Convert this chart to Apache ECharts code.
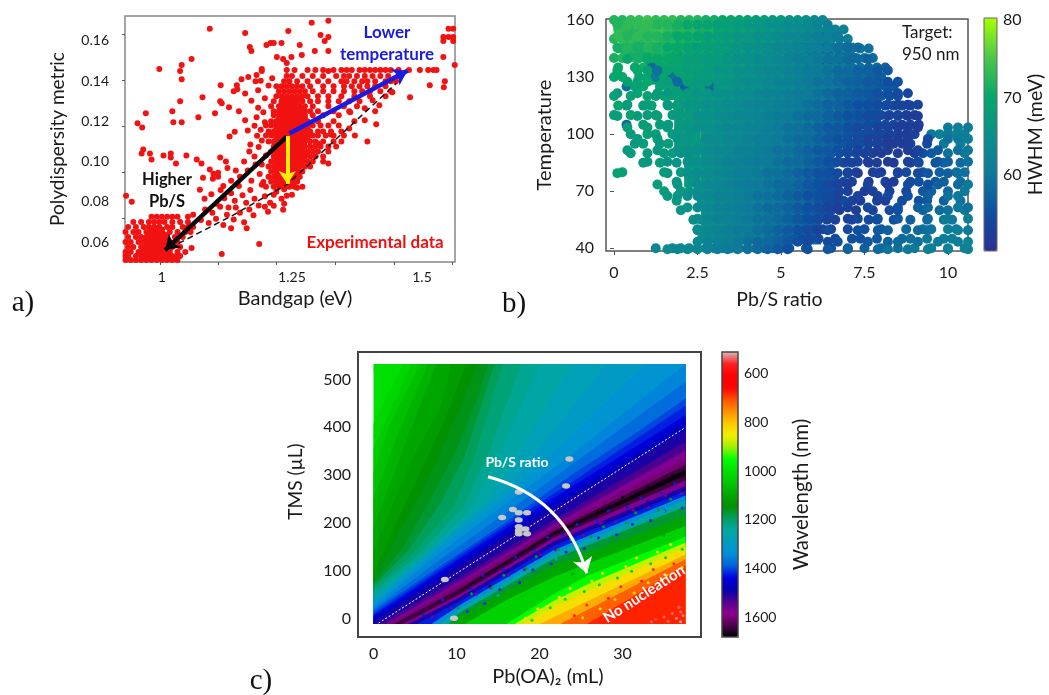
<!DOCTYPE html>
<html>
<head>
<meta charset="utf-8">
<style>html,body{margin:0;padding:0;background:#fff}#c{width:1049px;height:695px}</style>
<script src="https://cdn.jsdelivr.net/npm/echarts@6/dist/echarts.min.js"></script>
</head>
<body>
<div id="c"></div>
<script>
// ---------- Panel a: dense regions as rows of [polydispersity metric, bandgaps]; sparse points as [bandgap, metric]
const denseRows = [
[.051,[.93,.94,.95,.96,.97,.98,.99,1.0,1.01,1.02,1.03]],
[.052,[.965,.975,.985,.995,1.005,1.015]],
[.053,[.93,.935,.95,.96,.975,.985,.995,1.005,1.02,1.03,1.035]],
[.054,[.97,.98,.99,1.0,1.01]],
[.055,[.93,.94,.955,.965,.975,.985,.995,1.005,1.015,1.03,1.045]],
[.0562,[.965,.975,.985,.995,1.005,1.015]],
[.0575,[.935,.945,.96,.97,.98,.99,1.0,1.01,1.02,1.035]],
[.0588,[.97,.98,.99,1.0,1.01]],
[.06,[.93,.94,.955,.965,.975,.985,.995,1.005,1.015,1.03]],
[.0612,[.97,.98,.99,1.0,1.01]],
[.0625,[.935,.95,.96,.97,.98,.99,1.0,1.01,1.025,1.04]],
[.0637,[.975,.985,.995,1.005]],
[.065,[.93,.945,.955,.97,.98,.99,1.0,1.015,1.03,1.045,1.055]],
[.0662,[.98,.99,1.0]],
[.0675,[.935,.95,.965,.975,.985,.995,1.01,1.02,1.04,1.05,1.06]],
[.07,[.945,.96,.975,.985,.995,1.005,1.02,1.035,1.05]],
[.0725,[.98,.99,1.0,1.01,1.02,1.03,1.05]],
[.0875,[1.2,1.215,1.225,1.235,1.245,1.255,1.27]],
[.08875,[1.22,1.23,1.24,1.25]],
[.09,[1.21,1.22,1.23,1.24,1.25,1.26]],
[.09125,[1.22,1.23,1.24,1.25,1.26]],
[.0925,[1.205,1.215,1.225,1.235,1.245,1.255,1.265]],
[.09375,[1.22,1.23,1.24,1.25,1.26]],
[.095,[1.21,1.22,1.23,1.24,1.25,1.26,1.27]],
[.09625,[1.22,1.23,1.24,1.25,1.26]],
[.0975,[1.205,1.215,1.225,1.235,1.245,1.255,1.265,1.275,1.285]],
[.09875,[1.22,1.23,1.24,1.25,1.26,1.27]],
[.1,[1.21,1.22,1.23,1.24,1.25,1.26,1.27,1.28,1.29,1.31]],
[.10125,[1.22,1.23,1.24,1.25,1.26,1.27]],
[.1025,[1.215,1.225,1.235,1.245,1.255,1.265,1.275,1.285,1.295,1.31]],
[.10375,[1.22,1.23,1.24,1.25,1.26,1.27]],
[.105,[1.21,1.22,1.23,1.24,1.25,1.26,1.27,1.28,1.29,1.3,1.32]],
[.10625,[1.22,1.23,1.24,1.25,1.26,1.27]],
[.1075,[1.215,1.225,1.235,1.245,1.255,1.265,1.275,1.285,1.295,1.305,1.32,1.335]],
[.10875,[1.22,1.23,1.24,1.25,1.26,1.27]],
[.11,[1.205,1.215,1.225,1.235,1.245,1.255,1.265,1.275,1.285,1.295,1.31,1.33,1.345]],
[.1115,[1.22,1.23,1.24,1.25,1.26,1.27,1.28]],
[.113,[1.2,1.21,1.22,1.23,1.24,1.25,1.26,1.27,1.28,1.29,1.3,1.315,1.33,1.35]],
[.114,[1.22,1.23,1.24,1.25,1.26,1.27]],
[.115,[1.205,1.215,1.225,1.235,1.245,1.255,1.265,1.275,1.285,1.3,1.31,1.325,1.345]],
[.1165,[1.22,1.23,1.24,1.25,1.26,1.27,1.28]],
[.118,[1.2,1.21,1.22,1.23,1.24,1.25,1.26,1.27,1.28,1.29,1.305,1.32,1.34]],
[.119,[1.22,1.23,1.24,1.25,1.26,1.27]],
[.12,[1.21,1.22,1.23,1.24,1.25,1.26,1.27,1.28,1.3,1.33]],
[.1215,[1.225,1.235,1.245,1.255,1.265,1.275]],
[.123,[1.215,1.225,1.235,1.245,1.255,1.265,1.275,1.29,1.31,1.34]],
[.124,[1.23,1.24,1.25,1.26,1.27]],
[.125,[1.215,1.225,1.235,1.245,1.255,1.265,1.275,1.285,1.3,1.33,1.36]],
[.12625,[1.23,1.24,1.25,1.26,1.27]],
[.1275,[1.21,1.225,1.235,1.245,1.255,1.265,1.275,1.29,1.32,1.35,1.375]],
[.12875,[1.23,1.24,1.25,1.26]],
[.13,[1.215,1.23,1.24,1.25,1.26,1.27,1.285,1.3,1.32,1.34,1.36,1.38]],
[.13125,[1.235,1.245,1.255,1.265]],
[.1325,[1.22,1.23,1.24,1.25,1.26,1.27,1.28,1.3,1.32,1.345,1.37,1.4,1.43]],
[.135,[1.225,1.235,1.245,1.255,1.265,1.275,1.29,1.31,1.33,1.35,1.37,1.385,1.4,1.42,1.44]],
[.1375,[1.22,1.23,1.24,1.25,1.26,1.27,1.285,1.31,1.33,1.35,1.365,1.38,1.395,1.41,1.43]],
[.14,[1.235,1.245,1.26,1.28,1.3,1.32,1.345,1.355,1.37,1.385,1.395,1.41,1.43,1.44,1.45]],
[.1425,[1.24,1.25,1.27,1.29,1.31,1.335,1.35,1.36,1.375,1.39,1.405,1.42,1.435,1.455]],
[.1455,[1.24,1.255,1.28,1.295,1.31,1.33,1.345,1.355,1.365,1.38,1.39,1.4,1.41,1.42,1.43,1.44,1.455,1.475,1.496,1.512,1.522,1.528]]
];
const sparsePoints = [
[.995,.146],[1.038,.148],[1.035,.145],[1.038,.141],[1.057,.151],[1.092,.166],[1.16,.164],[1.169,.157],[1.172,.155],[1.201,.158],[1.209,.159],[1.215,.159],[1.23,.159],[1.243,.165],[1.288,.169],[1.32,.17],[1.305,.163],[1.32,.162],[1.313,.16],[1.32,.155],[1.265,.158],[1.269,.153],[1.249,.152],[1.221,.152],[1.233,.151],[1.24,.149],[1.294,.155],[1.32,.145],
[.953,.119],[.962,.117],[.969,.124],[1.02,.125],[1.035,.13],[1.078,.132],[1.022,.1195],[1.038,.1195],[1.07,.122],[1.102,.124],[1.112,.13],[1.115,.129],[1.129,.127],[1.148,.125],[1.113,.138],[1.144,.138],[1.145,.136],[1.153,.141],[1.166,.142],[1.182,.143],[1.192,.146],[1.192,.145],
[.964,.106],[.961,.104],[.977,.104],[.98,.101],[1.003,.103],[1.017,.104],[1.017,.102],[1.027,.099],[1.047,.103],[1.067,.101],[1.076,.099],[1.112,.102],[1.123,.1],[1.092,.096],[1.099,.094],[1.079,.092],[1.108,.0925],[.942,.08],[.931,.083],[1.073,.086],[1.115,.054],[1.057,.057],[1.187,.059],[1.233,.076],[1.24,.083],[1.198,.0775],[1.204,.075],
[1.395,.11],[1.371,.113],[1.412,.1185],[1.477,.132],[1.32,.099],[1.515,.138],[1.544,.14],[1.542,.137],[1.541,.152],[1.563,.148],[1.541,.162],[1.551,.162],[1.56,.166],[1.56,.162],[1.56,.16],[1.541,.16],[1.551,.166],
[1.06,.0735],[1.075,.071],[1.083,.0762],[1.09,.0695],[1.097,.0745],[1.104,.0715],[1.112,.0775],[1.118,.0685],[1.125,.0735],[1.133,.0668],[1.138,.0712],[1.142,.0772],[1.15,.0745],[1.158,.0698],[1.163,.0668],[1.168,.0762],[1.176,.0733],[1.082,.0815],[1.095,.0838],[1.105,.079],[1.113,.0858],[1.12,.0818],[1.128,.0772],[1.133,.0842],[1.14,.0805],[1.148,.0878],[1.155,.0832],[1.162,.0795],[1.17,.0858],[1.178,.0815],[1.186,.0782],[1.192,.0885],[1.198,.0828],[1.208,.0795],[1.098,.0915],[1.108,.0945],[1.118,.0878],[1.126,.0968],[1.133,.0905],[1.142,.0955],[1.15,.0925],[1.158,.1],[1.165,.0955],[1.172,.0905],[1.18,.0985],[1.188,.0938],[1.195,.0898],[1.2,.103],[1.168,.105],[1.178,.1025],[1.186,.1072],[1.192,.0985],[1.17,.1085],[1.183,.1128],[1.192,.1105],[1.165,.1155],[1.178,.1178],[1.19,.1158],[1.14,.1148],[1.13,.1125],[1.16,.1205],[1.182,.122],[1.195,.1245],[1.198,.1195],[1.185,.1268],[1.172,.1302],[1.198,.1315],[1.16,.1338],[1.185,.1355],[1.205,.1378],[1.19,.1402],[1.212,.1415],[1.138,.135],[1.18,.14],
[1.22,.085],[1.235,.0862],[1.215,.0835],[1.23,.0815],[1.25,.0835],[1.26,.087],[1.235,.079],[1.215,.078],
[1.28,.1035],[1.3,.109],[1.325,.1135],[1.36,.1165],[1.37,.12],[1.39,.1205],[1.362,.1245],[1.39,.1265],[1.41,.125],[1.418,.128],[1.405,.1305],[1.443,.1345]
];
const bandgapLabels = [1, 1.25, 1.5];
const bandgapTicks = [0.996, 1.108, 1.2205, 1.333, 1.446, 1.558];
const metricLabels = [0.06, 0.08, 0.10, 0.12, 0.14, 0.16];
const metricTicks = [0.1631, 0.1403, 0.1174, 0.0946, 0.0720];
const dashedGuide = [[1.015,.057],[1.137,.0734],[1.188,.0809],[1.242,.0889],[1.451,.139]];
const lowerTempArrow = [[1.245,.114],[1.472,.1452]];
const higherPbsArrow = [[1.24,.1124],[1.006,.056]];
const yellowArrow = [[1.241,.1127],[1.241,.0889]];

// ---------- Panel b: HWHM (meV); 0 = no point. Two overlapping sampling tables.
const temperatureRows = [160,155,150,145,140,135,130,125,120,115,110,105,100,95,90,85,80,75,70,65,60,55,50,45,40];
const pbsStep = 0.25;
const hwhmRows = [
[72,72,73,73,74,73,73,73,72,72,72,71,71,70,70,69,69,68,68,67,67,66,66,65,64,63],
[73,73,72,73,73,74,73,72,72,72,71,71,70,70,69,69,68,68,67,67,66,65,65,64,64,63,62,62],
[72,73,73,72,73,73,72,72,71,71,71,70,70,69,69,68,68,67,67,66,65,65,64,64,63,62,62,61,61],
[71,72,72,71,72,72,72,71,71,70,70,70,69,69,68,68,67,67,66,66,65,64,64,63,63,62,61,61,60,60,59],
[71,72,0,71,70,71,71,70,70,70,69,69,69,68,68,67,67,66,66,65,65,64,63,63,62,62,61,60,60,59,59,58],
[70,0,70,71,58,70,70,70,69,69,69,68,68,68,67,67,66,66,65,65,64,64,63,62,62,61,61,60,59,59,58,58,57],
[70,70,0,69,70,60,70,59,69,69,68,68,68,67,67,66,66,65,65,64,64,63,63,62,61,61,60,59,59,58,58,57,57],
[0,59,69,70,0,69,0,69,57,68,68,58,67,67,66,66,65,65,64,64,63,63,62,61,61,60,60,59,58,58,57,57,56,56],
[69,0,69,0,69,68,69,0,68,68,67,67,67,66,66,65,65,64,64,63,63,62,61,61,60,60,59,58,58,57,57,56,56,55,55],
[70,69,0,68,69,0,68,68,0,67,0,67,66,66,65,65,64,64,63,63,62,62,61,60,60,59,59,58,57,57,56,56,55,55,54,54],
[68,0,69,0,68,68,0,67,67,0,67,66,66,65,65,64,64,63,63,62,62,61,60,60,59,59,58,58,57,56,56,55,55,54,54,53,53],
[0,58,0,68,0,68,68,0,67,67,66,0,66,65,65,64,64,63,62,62,61,61,60,60,59,58,58,57,56,56,55,55,54,54,53,53,53],
[0,0,68,0,69,68,0,67,0,66,0,66,65,65,64,64,63,63,62,62,61,60,60,59,59,58,57,57,56,55,55,54,54,53,53,52,53,0,60,61,60,62,61],
[0,0,67,68,0,67,68,0,67,0,66,65,65,64,64,63,63,62,62,61,61,60,59,59,58,58,57,56,55,55,54,53,53,52,52,53,0,54,0,60,0,61,60],
[0,0,68,0,67,0,67,67,66,66,0,65,65,64,63,63,62,62,61,61,60,60,59,58,58,57,56,55,55,54,53,53,52,0,52,0,53,55,56,0,59,0,60],
[0,0,0,67,0,68,0,66,0,66,65,65,64,64,63,63,62,62,61,60,60,59,59,58,57,57,56,55,54,0,53,52,0,52,0,53,54,0,55,57,0,58,0],
[0,69,0,0,0,0,68,0,67,0,65,66,65,64,63,62,62,61,61,60,60,59,58,58,57,56,55,0,53,53,0,52,52,0,53,54,0,56,0,57,0,59,59],
[0,0,0,0,0,0,0,67,0,66,0,65,64,64,63,62,62,61,60,60,59,59,58,57,56,56,55,54,53,0,52,0,53,52,0,54,55,0,56,57,0,59,58],
[0,0,0,0,0,0,68,0,67,66,65,65,64,63,63,62,61,61,60,60,59,58,58,57,56,55,55,54,53,0,52,53,0,53,0,54,0,56,57,0,58,0,60],
[0,0,0,0,0,0,0,67,0,0,65,65,64,63,63,62,62,61,60,60,59,58,58,57,56,55,54,54,53,52,0,53,52,0,54,0,55,56,0,57,0,59,60],
[0,0,0,0,0,0,0,0,66,0,0,65,64,63,63,62,61,61,60,59,59,58,57,56,56,55,54,53,0,52,0,53,0,54,55,0,0,57,0,58,59,0,60],
[0,0,0,0,0,0,0,0,0,65,64,64,63,63,62,61,61,60,59,59,58,57,56,55,55,54,53,0,53,0,54,54,0,55,0,57,0,58,0,60,60],
[0,0,0,0,0,0,0,0,0,0,64,64,63,63,62,61,61,60,59,59,58,57,56,55,54,54,53,0,54,0,55,0,56,0,0,58,0,59,59,0,61,60],
[0,0,0,0,0,0,0,0,0,0,64,63,63,62,62,61,60,60,59,58,57,56,55,54,54,0,54,0,55,55,0,56,0,0,58,59,0,60,0,61,61,0],
[0,0,0,0,0,63,0,63,64,63,63,63,62,62,61,60,60,59,59,58,57,56,0,55,0,0,55,0,56,0,57,0,58,0,59,0,60,0,61,0,62,0,62]
];
const temperatureRowsB = [157.5,151.5,145.5,139.5,133.5,127.5,121.5,115.5,109.5,103.5,97.5,91.5,85.5,79.5,73.5,67.5,61.5,55.5,49.5,43.5,39.5];
const pbsStartB = 0.1;
const pbsStepB = 0.3;
const hwhmRowsB = [
[72,73,73,73,72,72,71,70,69,69,68,68,67,66,66,65,65,64,64,63,62,61],
[73,72,73,72,72,71,70,70,69,68,68,67,66,66,65,65,64,63,63,62,61,61,60],
[71,72,71,72,71,70,70,69,68,68,67,67,66,65,65,64,63,63,62,61,61,60,59,58,58],
[0,70,71,70,70,70,69,68,68,67,67,66,65,65,64,64,63,62,61,61,60,59,59,58,58,57],
[70,0,70,69,59,69,69,68,68,67,66,66,65,65,64,63,63,62,61,60,60,59,58,58,57,57,56,56],
[0,69,69,70,0,68,58,68,67,67,66,66,65,64,64,63,62,62,61,60,59,59,58,57,57,56,56,55,55],
[68,0,69,0,68,67,68,67,66,66,65,65,64,64,63,62,62,61,60,60,59,58,57,57,56,56,55,55,54,54],
[0,67,0,68,0,67,0,66,66,65,65,64,64,63,62,62,61,60,60,59,58,57,57,56,55,55,54,54,53,53,53],
[68,0,68,0,68,0,67,0,65,65,64,64,63,63,62,61,60,60,59,58,58,57,56,55,55,54,54,53,53,52,52],
[0,68,0,68,0,67,0,66,65,65,64,63,63,62,62,61,60,59,59,58,57,56,56,55,54,54,53,53,52,52,52,0,0,60,61,60],
[0,0,67,0,67,0,66,66,0,64,64,63,63,62,61,61,60,59,58,58,57,56,55,55,54,53,53,52,52,52,0,54,0,59,60,61],
[0,67,0,0,67,0,66,65,65,64,63,63,62,62,61,60,59,59,58,57,56,56,55,54,53,53,52,52,0,52,53,0,56,0,59,60],
[0,0,0,67,0,66,0,65,65,64,63,62,62,61,60,60,59,58,58,57,56,55,54,53,53,52,0,52,0,53,54,0,56,57,0,59],
[69,0,0,0,0,67,0,65,64,64,63,62,61,61,60,59,59,58,57,56,55,55,54,53,52,0,53,0,53,0,54,56,0,57,59,0],
[0,0,0,0,68,0,66,0,64,63,63,62,61,60,60,59,58,58,57,56,55,54,53,52,0,53,0,52,0,54,0,55,57,0,58,60],
[0,0,0,0,0,67,66,65,64,63,62,62,61,60,59,59,58,57,56,55,55,54,53,0,53,0,53,54,0,55,0,57,0,59,60,0],
[0,0,0,0,0,0,0,66,64,63,62,61,61,60,59,58,58,57,56,55,54,53,52,53,0,54,0,0,55,0,57,58,0,0,60,59],
[0,0,0,0,0,0,0,0,65,63,62,62,61,60,59,59,58,57,56,55,54,53,0,53,54,0,55,0,56,0,0,58,0,60,0,61],
[0,0,0,0,0,0,0,0,64,63,62,61,60,60,59,58,57,56,55,54,53,54,0,0,55,0,56,57,0,0,58,59,0,0,61,60],
[0,0,0,0,0,0,0,0,63,62,62,61,60,59,58,58,57,56,55,54,0,54,55,0,0,56,0,57,58,0,59,0,60,0,61,62],
[0,0,0,0,0,64,63,63,63,62,61,60,60,59,58,57,56,55,0,55,0,56,0,57,0,0,58,59,0,60,0,61,0,62,0,62]
];
// solid interior of the cloud: [Pb/S from, temperature from, HWHM, Pb/S to, temperature to]
const hwhmStrips = [
[0.2,138,71,1.5,158],[0.9,126,69,1.5,138],[1.5,118,69,2.1,158],[1.8,90,67,2.1,118],[2.1,72,67,2.6,158],
[2.6,46,66,3.2,158],[3.2,42,64,3.8,158],[3.8,42,63,4.4,158],[4.4,42,62,5,158],[5,42,60.5,5.6,158],[5.6,42,59,6.2,158],[6.2,55,57,6.6,155],[6.6,100,57,7.2,148],[7.2,105,56,8,135]
];
const pbsLabels = [0, 2.5, 5, 7.5, 10];
const temperatureLabels = [40, 70, 100, 130, 160];
const hwhmLabels = [50, 60, 70, 80];
const hwhmColors = ['#2a2f90','#0f4fa0','#0e7a9a','#0a8f8c','#07a76b','#4dc84a','#a6ff00'];

// ---------- Panel c: wavelength contours [Pb(OA)2, TMS, ...], ordered from upper-left to lower-right
const fieldX = [0, 37.6];
const fieldY = [-10, 532];
const contourWavelengths = [1000,1020,1040,1060,1080,1100,1120,1140,1155,1170,1190,1210,1230,1250,1275,1300,1325,1350,1375,1400,1420,1440,1470,1500,1530,1570,1600,1640,1670,1640,1570,1500,1420,1340,1250,1170,1100,1030,950,880,830,780,720,680];
const contourLines = [
[0,-10,0,532],
[0,408,3.6,532],
[0,355,1.6,420,4.6,532],
[0,304,2,408,5.6,532],
[0,250,3,390,6.6,532],
[0,193,4,374,7.6,532],
[0,145,4.4,325,8,440,9.4,532],
[0,96,4.8,276,8.4,408,11.2,532],
[0,85,4.2,215,7.6,330,10.4,440,12.5,532],
[0,75,3.6,151,6.8,249,10,353,12.4,457,13.8,532],
[0,70,4.2,145,8,240,11,342,13.6,480,14.6,532],
[0,65,4.8,138,9.6,235,12,332,15.6,532],
[0,57,5.6,138,10.8,235,14,353,17.8,532],
[0,49,6.4,138,12,235,16,374,20,532],
[0,43,7.2,148,14,252,18.4,374,24,532],
[0,37,8,158,16,269,20.9,374,28.1,532],
[0,31,8,148,16,255,22.5,360,32.8,532],
[0,26,8,138,16,242,24.1,346,37.6,532],
[0,21,8,124,16,222,24.1,325,37.6,495],
[0,16,8,110,16,203,24.1,304,32.1,394,37.6,460],
[0,11,16,197,24.1,288,37.6,445],
[0,7,16,190,37.6,425],
[0,1,16,181,37.6,412],
[0,-5,16,172,37.6,395],
[0.8,-10,10.4,88,21.7,207,37.6,370],
[1.5,-10,10.4,80,21.7,197,37.6,352],
[2,-10,10.4,72,21.7,190,37.6,335],
[2.5,-10,10.4,64,21.7,184,37.6,322],
[10.4,60,21.7,180,37.6,312],
[3,-10,10.4,58,21.7,176,37.6,300],
[3.5,-10,10.4,52,21.7,170,37.6,290],
[4.2,-10,10.4,46,21.7,162,37.6,278],
[5.2,-10,10.4,38,21.7,153,37.6,268],
[7,-10,10.4,30,21.7,144,37.6,258],
[8,-10,10.4,22,21.7,136,37.6,248],
[9,-10,10.4,14,21.7,126,37.6,235],
[9.8,-10,10.4,6,21.7,112,37.6,215],
[11,-10,16,40,21.7,88,37.6,195],
[16,-10,21.7,52,25.7,90,37.6,172],
[17,-10,21.7,38,25.7,72,37.6,160],
[18,-10,21.7,25,25.7,58,37.6,150],
[20,-10,37.6,135],
[22.5,-10,37.6,125],
[25.7,-10,37.6,112]
];
// speckle read around the noisy band edges: [wavelength, Pb(OA)2, TMS]
const speckles = [
[1420,6,10],[1420,8.3,41],[1420,11.7,63],[1420,13.2,91],[1420,15.6,105],[1420,17.1,130],[1420,19.4,143],[1420,21,171],[1420,22.8,176],[1420,24.5,198],[1420,26.9,206],[1420,28.3,226],[1420,30.6,233],[1420,32.2,253],[1420,34.7,263],[1420,36.3,283],
[1570,7.1,6],[1570,9.4,22],[1570,12.4,52],[1570,14.1,66],[1570,16.3,92],[1570,18.2,104],[1570,20.1,135],[1570,21.9,145],[1570,23.7,170],[1570,25.3,175],[1570,27.4,200],[1570,29.2,203],[1570,31.3,227],[1570,33.1,232],[1570,35.2,258],[1570,37.1,262],
[1170,10.2,24],[1170,11.8,53],[1170,14.3,66],[1170,15.7,92],[1170,18.4,106],[1170,19.6,131],[1170,22.3,145],[1170,23.8,166],[1170,26.2,172],[1170,27.7,193],[1170,30.4,200],[1170,31.6,222],[1170,34.3,228],[1170,35.8,250],
[1420,11.3,16],[1420,13.4,33],[1420,15.2,62],[1420,17.6,76],[1420,19.2,103],[1420,21.4,116],[1420,23.2,140],[1420,25.4,148],[1420,27.1,170],[1420,29.3,176],[1420,31.2,198],[1420,33.4,206],[1420,35.1,226],[1420,37.2,232],
[830,18.3,2],[830,19.8,22],[830,22.4,46],[830,23.7,64],[830,26.3,80],[830,27.6,96],[830,30.4,110],[830,31.7,128],[830,34.2,140],[830,35.8,156],
[1030,19.1,-2],[1030,21.3,24],[1030,23.1,42],[1030,25.4,58],[1030,27.2,72],[1030,29.4,86],[1030,31.1,100],[1030,33.4,116],[1030,35.2,128],[1030,37.2,146],
[680,24.2,8],[680,25.7,30],[680,28.3,44],[680,29.8,68],[680,32.3,80],[680,33.7,104],[680,36.2,116],
[830,25.2,3],[830,27.3,22],[830,29.1,41],[830,31.4,55],[830,33.1,76],[830,35.3,91],[830,37.2,108],
[1030,16,25],[1100,18,60],[1100,24,95],[1100,30,150],[1100,35,175],[1250,15,50],[1250,22,125],[1300,28,175],[1250,35,225],
[1500,8,18],[1500,14,70],[1500,20,130],[1500,26,190],[1500,33,245],[1670,24,197],[1670,27,225],[1670,30,255],[1670,33,278],[1670,36,300],[1570,35,315],[1570,31,275],[1570,27,235],
[540,35,5],[540,36,12],[530,36.5,2],[540,37,15],[530,37.3,8],[550,34,0],[540,36.8,25],[540,33.5,-5],[520,37,-5],[540,35.5,-4]
];
const samplePoints = [[23.6,334],[23.2,278],[17.5,265],[16.8,229],[17.5,222],[18.5,222],[15.5,212],[17.5,207],[17.5,193],[18.3,188],[17.5,185],[18.5,178],[17.5,178],[8.6,83],[9.7,2]];
const pbOALabels = [0, 10, 20, 30];
const pbOATicks = [4.67, 12.2, 19.67, 27.2, 34.7];
const tmsLabels = [0, 100, 200, 300, 400, 500];
const tmsTicks = [110, 246, 384, 521];
const whiteDashed = [[0.6,-8],[37.6,400]];
const pbsArrow = [[13.8,297],[25.7,96]];
const wavelengthLabels = [600, 800, 1000, 1200, 1400, 1600];
const wavelengthColors = ['#d8b8b8','#ff2020','#ff0000','#ff0000','#ff5000','#ff9000','#ffc800','#f0f000','#a0f000','#00ff00','#00e000','#00c800','#00a800','#009000','#00a060','#00a8a0','#009cc0','#0090d8','#0060e0','#0000e0','#0000b0','#500090','#900090','#500050','#000000'];

const font = 'Lato';
const ink = '#1a1a1a';

const hwhmData = [];
hwhmRows.forEach((row, r) => row.forEach((v, i) => {
  if (v) hwhmData.push([i * pbsStep + (r % 2 ? pbsStep / 2 : 0), temperatureRows[r], v]);
}));
hwhmRowsB.forEach((row, r) => row.forEach((v, i) => {
  if (v) hwhmData.push([pbsStartB + i * pbsStepB, temperatureRowsB[r], v]);
}));
const metricData = sparsePoints.slice();
denseRows.forEach(([y, xs]) => xs.forEach(x => metricData.push([x, y])));

function arrow(name, coords, color, width, size, xi, yi, curveness) {
  return { type:'lines', name, coordinateSystem:'cartesian2d', xAxisIndex:xi, yAxisIndex:yi, z:5,
    symbol:['none','arrow'], symbolSize:size,
    lineStyle:{color, width, opacity:1, curveness:curveness||0},
    data:[{coords}] };
}
function valueAxis(o) {
  return Object.assign({type:'value', gridIndex:o.g, splitLine:{show:false}, axisLine:{show:false}, scale:false,
    nameLocation:'middle', nameTextStyle:Object.assign({fontFamily:font,color:ink,fontSize:19}, o.nameStyle||{}),
    axisTick:{show:!!o.ticks, customValues:o.ticks, length:o.tickLen||3, inside:!!o.tickIn, lineStyle:{color:'#555'}},
    axisLabel:{show:!!o.labels, customValues:o.labels, margin:o.margin, fontFamily:font, color:ink, fontSize:o.fs||16, formatter:o.fmt||(v=>String(v))}
  }, o.extra);
}
function txt(text, x, y, size, fill, extra) {
  return Object.assign({type:'text', x, y, z:20, style:Object.assign({text, fill, font:size+'px '+font, textAlign:'center', textVerticalAlign:'middle'}, (extra&&extra.style)||{})}, extra&&extra.rotation?{rotation:extra.rotation}:{});
}
const nameStyle = (size, padding) => ({fontFamily:font,color:ink,fontSize:size,padding:padding||0});

const option = {
  animation:false,
  textStyle:{fontFamily:font},
  grid:[
    {left:125,top:16,width:330,height:246,show:true,borderColor:'#888',borderWidth:1.5,backgroundColor:'#fff'},
    {left:606,top:19,width:362,height:232,show:true,borderColor:'#555',borderWidth:1.5,backgroundColor:'#fff'},
    {left:358,top:352,width:343,height:285,show:true,borderColor:'#444',borderWidth:2,backgroundColor:'#fff'},
    {left:984,top:18,width:13,height:233,show:true,borderColor:'#666',borderWidth:1,backgroundColor:'transparent',z:6},
    {left:722,top:352,width:16,height:285,show:true,borderColor:'#444',borderWidth:1.5,backgroundColor:'transparent',z:6}
  ],
  xAxis:[
    valueAxis({g:0,labels:bandgapLabels,ticks:bandgapTicks,margin:8,fs:14,extra:{min:0.929,max:1.5635,name:'Bandgap (eV)',nameGap:27,nameTextStyle:nameStyle(20,[0,0,0,10])}}),
    valueAxis({g:1,labels:pbsLabels,ticks:pbsLabels,tickLen:4,margin:14,extra:{min:-0.24,max:10.6,name:'Pb/S ratio',nameGap:39,nameTextStyle:nameStyle(19.5,[0,15,0,0])}}),
    valueAxis({g:2,labels:pbOALabels,ticks:pbOATicks,tickIn:true,margin:9,extra:{min:-1.87,max:39.46,name:'Pb(OA)₂ (mL)',nameGap:30,nameTextStyle:nameStyle(20,[0,0,0,37])}}),
    {type:'value',gridIndex:3,min:0,max:1,show:false},
    {type:'value',gridIndex:4,min:0,max:1,show:false}
  ],
  yAxis:[
    valueAxis({g:0,labels:metricLabels,ticks:metricTicks,margin:16,fs:14,fmt:v=>v.toFixed(2),extra:{min:0.05005,max:0.1724,name:'Polydispersity metric',nameGap:58}}),
    valueAxis({g:1,labels:temperatureLabels,ticks:temperatureLabels,tickLen:4,margin:12,extra:{min:38.6,max:160.5,name:'Temperature',nameGap:51,nameTextStyle:nameStyle(20)}}),
    valueAxis({g:2,labels:tmsLabels,ticks:tmsTicks,tickIn:true,margin:7,extra:{min:-36.9,max:557,name:'TMS (µL)',nameGap:53,nameTextStyle:nameStyle(19,[0,0,0,26])}}),
    valueAxis({g:3,labels:hwhmLabels,margin:6,extra:{min:50.17,max:80.26,position:'right',name:'HWHM (meV)',nameGap:6,nameRotate:90,nameTextStyle:nameStyle(19.5)}}),
    valueAxis({g:4,labels:wavelengthLabels,margin:6,fs:14,extra:{min:514,max:1678,inverse:true,position:'right',name:'Wavelength (nm)',nameGap:53,nameRotate:90,nameTextStyle:nameStyle(20.5)}})
  ],
  visualMap:[
    {type:'continuous',seriesIndex:[5,11],dimension:2,min:50,max:80,left:984,top:18,itemWidth:13,itemHeight:233,padding:0,calculable:false,text:null,hoverLink:false,inRange:{color:hwhmColors}},
    {type:'continuous',seriesIndex:[6,7],dimension:0,min:514,max:1678,left:722,top:352,itemWidth:16,itemHeight:285,padding:0,calculable:false,text:null,inverse:true,hoverLink:false,inRange:{color:wavelengthColors}}
  ],
  series:[
    {type:'scatter',name:'Experimental data',xAxisIndex:0,yAxisIndex:0,symbolSize:6,itemStyle:{color:'#f21212',opacity:1},data:metricData},
    {type:'line',xAxisIndex:0,yAxisIndex:0,showSymbol:false,z:4,lineStyle:{color:'#111',width:1.5,type:[6,4]},data:dashedGuide},
    arrow('Lower temperature',lowerTempArrow,'#1a1ae0',4.5,14,0,0),
    arrow('Higher Pb/S',higherPbsArrow,'#0a0a0a',4.5,14,0,0),
    arrow('Yellow',yellowArrow,'#f4f000',4,13,0,0),
    {type:'scatter',name:'HWHM',xAxisIndex:1,yAxisIndex:1,z:3,symbolSize:10,itemStyle:{opacity:1},data:hwhmData},
    {type:'custom',name:'Wavelength',xAxisIndex:2,yAxisIndex:2,data:contourWavelengths.map((w,i)=>[w,i]),encode:{x:[],y:[]},silent:true,
      renderItem:(params,api)=>{
        const line = contourLines[params.dataIndex], pts=[];
        for(let i=0;i<line.length;i+=2) pts.push([line[i],line[i+1]]);
        const first=pts[0], last=pts[pts.length-1];
        if(last[1]>=fieldY[1]) pts.push([fieldX[1],fieldY[1]]);
        pts.push([fieldX[1],fieldY[0]]);
        if(first[0]<=fieldX[0] && first[1]>fieldY[0]) pts.push([fieldX[0],fieldY[0]]);
        return {type:'polygon',shape:{points:pts.map(p=>api.coord(p))},style:{fill:api.visual('color')}};
      }},
    {type:'scatter',name:'Speckle',xAxisIndex:2,yAxisIndex:2,z:3,symbolSize:3,encode:{x:1,y:2},itemStyle:{opacity:1},data:speckles},
    {type:'line',xAxisIndex:2,yAxisIndex:2,showSymbol:false,z:4,lineStyle:{color:'#fff',width:1,type:[2,2]},data:whiteDashed},
    {type:'scatter',name:'Samples',xAxisIndex:2,yAxisIndex:2,z:4,symbolSize:[8,5.5],itemStyle:{color:'#c8c8c8',opacity:1},data:samplePoints},
    arrow('Pb/S ratio',pbsArrow,'#fff',3,15,2,2,0.28),
    {type:'custom',name:'HWHM interior',xAxisIndex:1,yAxisIndex:1,z:1,silent:true,data:hwhmStrips,encode:{x:[0,3],y:[1,4]},
      renderItem:(params,api)=>{
        const a=api.coord([api.value(0),api.value(4)]), b=api.coord([api.value(3),api.value(1)]);
        return {type:'rect',shape:{x:a[0],y:a[1],width:b[0]-a[0],height:b[1]-a[1]},style:{fill:api.visual('color')}};
      }}
  ],
  graphic:[
    txt('Lower',387,33,17,'#1a1ae0',{style:{font:'bold 17px '+font}}),
    txt('temperature',387,55,17,'#1a1ae0',{style:{font:'bold 17px '+font}}),
    txt('Higher',167,180,16.5,'#111',{style:{font:'bold 16.5px '+font}}),
    txt('Pb/S',167,202,16.5,'#111',{style:{font:'bold 16.5px '+font}}),
    txt('Experimental data',375,243,17,'#f01010',{style:{font:'bold 17px '+font}}),
    txt('Target:',902,33,17,ink,{style:{textAlign:'left'}}),
    txt('950 nm',902,55,17,ink,{style:{textAlign:'left'}}),
    txt('Pb/S ratio',517,462,14,'#fff',{style:{font:'bold 14px '+font}}),
    txt('No nucleation',644,594,15,'#fff',{rotation:0.57,style:{font:'bold 15px '+font}}),
    txt('a)',23,303,29,'#111',{style:{font:'29px "Liberation Serif"'}}),
    txt('b)',514,304,29,'#111',{style:{font:'29px "Liberation Serif"'}}),
    txt('c)',261,681,29,'#111',{style:{font:'29px "Liberation Serif"'}})
  ]
};
echarts.init(document.getElementById('c'),null,{renderer:'canvas'}).setOption(option);
</script>
</body>
</html>
